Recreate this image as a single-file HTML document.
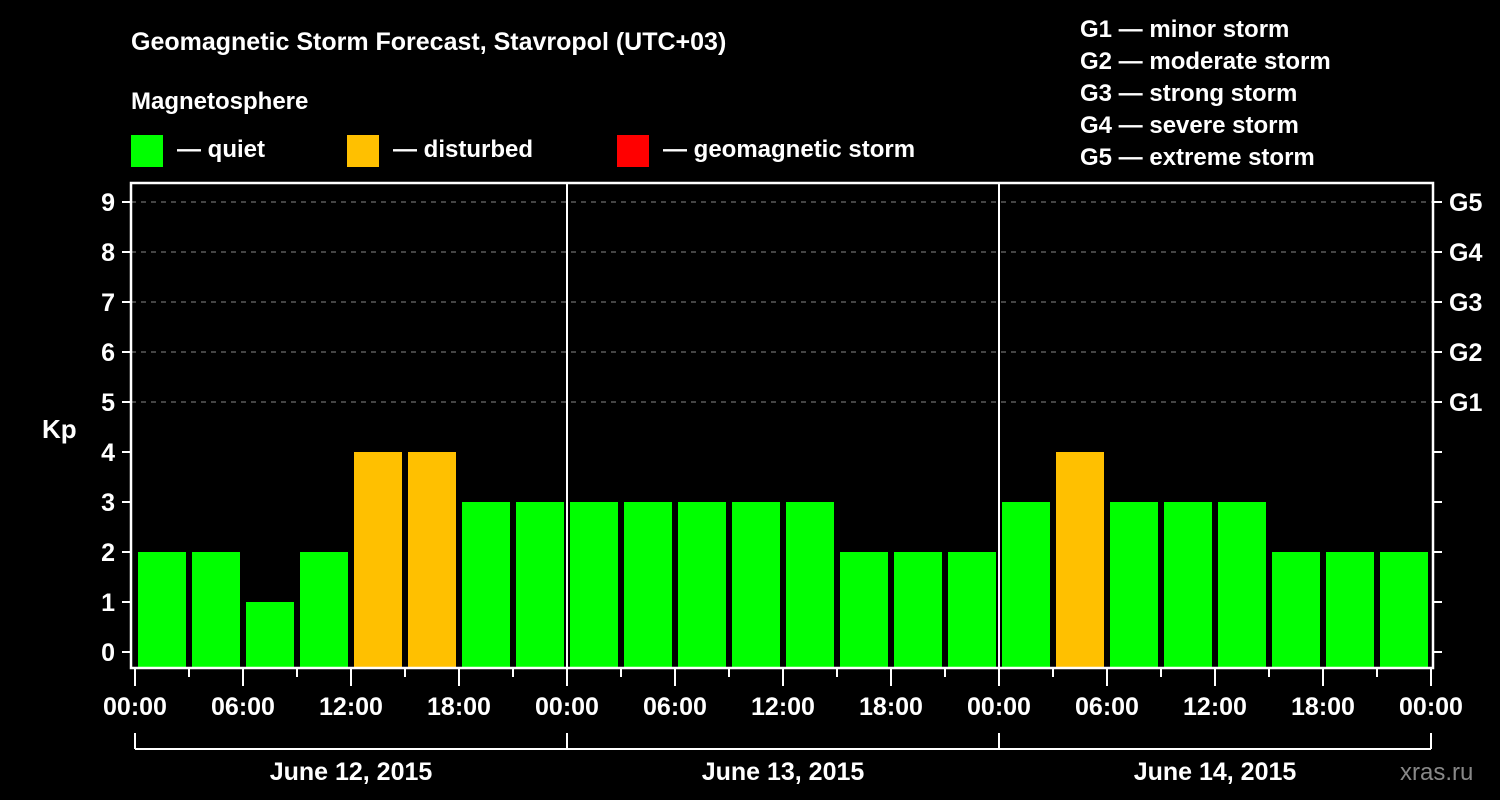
<!DOCTYPE html>
<html><head><meta charset="utf-8"><style>
html,body{margin:0;padding:0;background:#000;}
svg{display:block;font-family:"Liberation Sans",sans-serif;font-weight:bold;}
</style></head><body>
<svg width="1500" height="800" viewBox="0 0 1500 800" id="chart">
<rect width="1500" height="800" fill="#000"/>
<text x="131" y="50" fill="#fff" font-size="25">Geomagnetic Storm Forecast, Stavropol (UTC+03)</text>
<text x="131" y="109" fill="#fff" font-size="24">Magnetosphere</text>
<g><rect x="131" y="135" width="32" height="32" fill="#00ff00"/><text x="177" y="157" fill="#fff" font-size="24">— quiet</text></g>
<g><rect x="347" y="135" width="32" height="32" fill="#ffc000"/><text x="393" y="157" fill="#fff" font-size="24">— disturbed</text></g>
<g><rect x="617" y="135" width="32" height="32" fill="#ff0000"/><text x="663" y="157" fill="#fff" font-size="24">— geomagnetic storm</text></g>
<g fill="#fff" font-size="24">
<text x="1080" y="37">G1 — minor storm</text>
<text x="1080" y="69">G2 — moderate storm</text>
<text x="1080" y="101">G3 — strong storm</text>
<text x="1080" y="133">G4 — severe storm</text>
<text x="1080" y="165">G5 — extreme storm</text>
</g>
<text x="42" y="438" fill="#fff" font-size="26">Kp</text>
<text x="1400" y="780" fill="#888" font-size="24" font-weight="normal">xras.ru</text>
<g id="plot"></g>
</svg>
<script>
const kpValues = [2,2,1,2,4,4,3,3, 3,3,3,3,3,2,2,2, 3,4,3,3,3,2,2,2];
const dayLabels = ["June 12, 2015","June 13, 2015","June 14, 2015"];
const hourLabels = ["00:00","06:00","12:00","18:00"];
const yTicks = [0,1,2,3,4,5,6,7,8,9];
const gLabels = ["G1","G2","G3","G4","G5"];
const gLevels = [5,6,7,8,9];

const ns="http://www.w3.org/2000/svg";
const plot=document.getElementById('plot');
const X0=135, SLOT=54, L=131, R=1433, T=183, B=668;
const yScale=v=>652-v*50;
const xScale=i=>X0+i*SLOT;
function mk(tag,attrs,parent){const e=document.createElementNS(ns,tag);for(const k in attrs)e.setAttribute(k,attrs[k]);(parent||plot).appendChild(e);return e;}
// grid
gLevels.forEach(v=>{
  const l=mk('line',{x1:L,x2:R,y1:yScale(v),y2:yScale(v),stroke:'#888','stroke-dasharray':'5,5','stroke-width':1});
  
  
});
// bars
kpValues.forEach((v,i)=>{
  const c=v>=5?'#ff0000':(v>=4?'#ffc000':'#00ff00');
  const r=mk('rect',{x:xScale(i)+3,y:yScale(v),width:48,height:B-yScale(v),fill:c});
  
  
});
// day separators
for(let d=1;d<dayLabels.length;d++){
  const x=xScale(d*8);
  const l=mk('line',{x1:x,x2:x,y1:T,y2:B,stroke:'#fff','stroke-width':2});
  
  
}
// frame
const fr=mk('rect',{x:L,y:T,width:R-L,height:B-T,fill:'none',stroke:'#fff','stroke-width':2.5});


// y ticks
yTicks.forEach(v=>{
  const y=yScale(v);
  mk('line',{x1:122,x2:L,y1:y,y2:y,stroke:'#fff','stroke-width':2});
  mk('line',{x1:R,x2:1442,y1:y,y2:y,stroke:'#fff','stroke-width':2});
  const t=mk('text',{x:115,y:y+9,fill:'#fff','font-size':25,'text-anchor':'end'});
  t.textContent=v;
  
  
});
gLabels.forEach((g,i)=>{
  const t=mk('text',{x:1449,y:yScale(gLevels[i])+9,fill:'#fff','font-size':25});
  t.textContent=g;
  
  
});
// x ticks
for(let i=0;i<=kpValues.length;i++){
  const x=xScale(i);
  const major=i%2===0;
  mk('line',{x1:x,x2:x,y1:B,y2:major?686:677,stroke:'#fff','stroke-width':2});
  if(major){
    const t=mk('text',{x:x,y:715,fill:'#fff','font-size':25,'text-anchor':'middle'});
    t.textContent=hourLabels[(i/2)%4];
    
    
  }
}
// day brackets
mk('line',{x1:xScale(0),x2:xScale(24),y1:749,y2:749,stroke:'#fff','stroke-width':2});
for(let d=0;d<=dayLabels.length;d++){
  const x=xScale(d*8);
  mk('line',{x1:x,x2:x,y1:733,y2:749,stroke:'#fff','stroke-width':2});
}
dayLabels.forEach((lab,d)=>{
  const t=mk('text',{x:xScale(d*8+4),y:780,fill:'#fff','font-size':25,'text-anchor':'middle'});
  t.textContent=lab;
  
  
});
</script>
</body></html>
